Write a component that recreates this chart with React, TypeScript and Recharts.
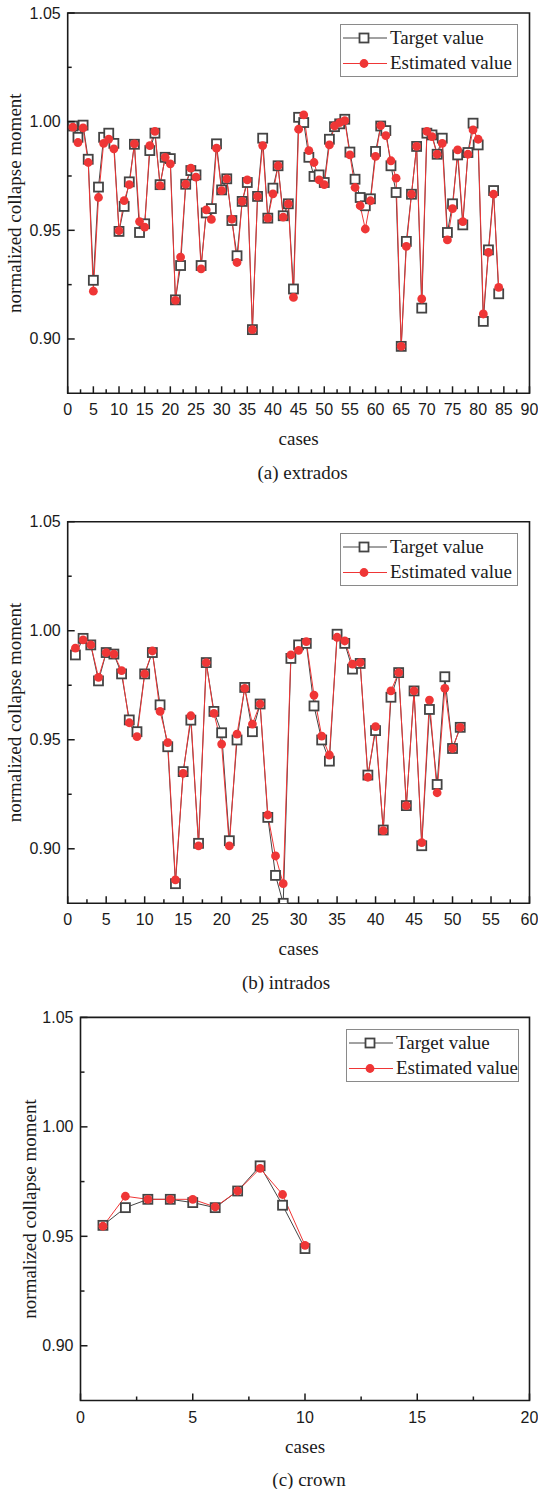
import React from 'react';
import { LineChart, Line, XAxis, YAxis, ReferenceArea, Legend, Label } from 'recharts';

// extrados: cases 1..84
const extradosTarget = [
  0.998, 0.9928, 0.9984, 0.9827, 0.927, 0.9699, 0.9928, 0.9947, 0.99, 0.9495,
  0.961, 0.9723, 0.9896, 0.949, 0.953, 0.9867, 0.9947, 0.971, 0.9836, 0.983,
  0.918, 0.9338, 0.9712, 0.9775, 0.9755, 0.9338, 0.958, 0.96, 0.9898, 0.9686,
  0.9737, 0.9545, 0.9383, 0.9633, 0.972, 0.9043, 0.9656, 0.9924, 0.9556, 0.9694,
  0.9797, 0.9567, 0.9622, 0.923, 1.002, 0.9996, 0.9836, 0.9748, 0.9755, 0.972,
  0.9919, 0.9977, 0.999, 1.0011, 0.986, 0.9735, 0.9651, 0.9613, 0.9645, 0.9863,
  0.998, 0.9959, 0.9797, 0.9674, 0.8966, 0.9449, 0.9666, 0.9886, 0.9142, 0.9947,
  0.9939, 0.985, 0.9924, 0.949, 0.9622, 0.9847, 0.9525, 0.9858, 0.9993, 0.9893,
  0.9081, 0.941, 0.9683, 0.9208,
];
const extradosEstimated = [
  0.9975, 0.9904, 0.9971, 0.9812, 0.922, 0.9651, 0.99, 0.992, 0.9875, 0.9498,
  0.9637, 0.971, 0.9898, 0.954, 0.9515, 0.989, 0.9955, 0.9706, 0.9836, 0.9806,
  0.9178, 0.9377, 0.9712, 0.9786, 0.9745, 0.9323, 0.9594, 0.955, 0.9878, 0.9683,
  0.9737, 0.9551, 0.9352, 0.9633, 0.9732, 0.9043, 0.9656, 0.989, 0.9556, 0.9668,
  0.9797, 0.9561, 0.9622, 0.9191, 0.9965, 1.0031, 0.9867, 0.9812, 0.9732, 0.971,
  0.9893, 0.998, 0.9996, 1.0005, 0.9847, 0.9697, 0.9613, 0.9506, 0.9636, 0.984,
  0.9982, 0.9936, 0.982, 0.974, 0.8966, 0.9426, 0.9666, 0.9886, 0.9184, 0.9955,
  0.9931, 0.985, 0.99, 0.9456, 0.96, 0.987, 0.954, 0.985, 0.9962, 0.9919,
  0.9115, 0.9398, 0.9666, 0.9237,
];

// intrados: cases 1..51
const intradosTarget = [
  0.9889, 0.9965, 0.9935, 0.977, 0.99, 0.9893, 0.9802, 0.9591, 0.9537, 0.9802,
  0.99, 0.966, 0.9468, 0.884, 0.9354, 0.959, 0.9025, 0.9854, 0.963, 0.9532,
  0.9037, 0.9499, 0.974, 0.9537, 0.9664, 0.9144, 0.8878, 0.875, 0.9873, 0.9935,
  0.9942, 0.9655, 0.9499, 0.9402, 0.9984, 0.9942, 0.9824, 0.985, 0.9338, 0.9542,
  0.9086, 0.9695, 0.9808, 0.9198, 0.9724, 0.9014, 0.9639, 0.9295, 0.9789, 0.946,
  0.9557,
];
const intradosEstimated = [
  0.992, 0.9958, 0.9935, 0.9786, 0.99, 0.9893, 0.9817, 0.9578, 0.9514, 0.9802,
  0.9907, 0.963, 0.9487, 0.8857, 0.9346, 0.961, 0.9013, 0.9854, 0.9621, 0.948,
  0.9013, 0.9526, 0.9736, 0.9572, 0.9664, 0.9155, 0.8967, 0.884, 0.9889, 0.991,
  0.995, 0.9705, 0.9517, 0.943, 0.997, 0.9953, 0.9847, 0.9854, 0.9328, 0.956,
  0.9083, 0.9724, 0.9808, 0.9198, 0.9724, 0.9028, 0.9682, 0.9257, 0.9736, 0.946,
  0.9557,
];

// crown: cases 1..10
const crownTarget = [0.955, 0.9631, 0.9669, 0.9669, 0.9654, 0.9631, 0.9707, 0.9822, 0.9642, 0.9444];
const crownEstimated = [0.9546, 0.9683, 0.9669, 0.9669, 0.9669, 0.9634, 0.9707, 0.981, 0.9691, 0.9459];

const xTicksExtrados = [0, 5, 10, 15, 20, 25, 30, 35, 40, 45, 50, 55, 60, 65, 70, 75, 80, 85, 90];
const xTicksIntrados = [0, 5, 10, 15, 20, 25, 30, 35, 40, 45, 50, 55, 60];
const xTicksCrown = [0, 5, 10, 15, 20];
const yTicks = [0.9, 0.925, 0.95, 0.975, 1.0, 1.025, 1.05];
const Y_DOMAIN = [0.875, 1.05];

const SERIES_NAMES = ['Target value', 'Estimated value'];
const SERIF = '"Liberation Serif", "Times New Roman", serif';
const SANS = '"Liberation Sans", Arial, sans-serif';
const INK = '#1a1a1a';
const GRAY = '#444444';
const RED = '#ef3636';

const withMinors = (major: number[]) => {
  const out: number[] = [];
  major.forEach((v, i) => {
    out.push(v);
    if (i < major.length - 1) out.push((v + major[i + 1]) / 2);
  });
  return out;
};

const buildRows = (target: number[], estimated: number[]) =>
  target.map((t, i) => ({ case: i + 1, target: t, estimated: estimated[i] }));

const XTick = ({ x, y, payload }: any) => {
  const v = payload.value;
  const major = Math.abs(v / 5 - Math.round(v / 5)) < 1e-6;
  return (
    <g>
      <line x1={x} y1={y} x2={x} y2={y - (major ? 7 : 4)} stroke={INK} strokeWidth={1.5} />
      {major && (
        <text x={x} y={y + 22} textAnchor="middle" fontSize={16} fontFamily={SANS} fill={INK}>
          {v}
        </text>
      )}
    </g>
  );
};

const YTick = ({ x, y, payload }: any) => {
  const v = payload.value;
  const major = Math.round(v * 1000) % 50 === 0;
  return (
    <g>
      <line x1={x} y1={y} x2={x + (major ? 7 : 4)} y2={y} stroke={INK} strokeWidth={1.5} />
      {major && (
        <text x={x - 7} y={y + 5.5} textAnchor="end" fontSize={16} fontFamily={SANS} fill={INK}>
          {v.toFixed(2)}
        </text>
      )}
    </g>
  );
};

const SquareDot = ({ cx, cy }: any) => {
  if (cx == null || cy == null) return null;
  return <rect x={cx - 4.5} y={cy - 4.5} width={9} height={9} fill="#fff" stroke={GRAY} strokeWidth={1.8} />;
};

const LegendBox = ({ width }: { width: number }) => (
  <svg width={width} height={53} style={{ display: 'block' }}>
    <rect x={0.5} y={0.5} width={width - 1} height={52} fill="#fff" stroke="#8a8a8a" strokeWidth={1} />
    <line x1={3} y1={14} x2={47} y2={14} stroke={GRAY} strokeWidth={1} />
    <rect x={19.5} y={9.5} width={9} height={9} fill="#fff" stroke={GRAY} strokeWidth={1.8} />
    <text x={50} y={19.8} fontFamily={SERIF} fontSize={19} fill={INK}>{SERIES_NAMES[0]}</text>
    <line x1={3} y1={39.5} x2={47} y2={39.5} stroke={RED} strokeWidth={1} />
    <circle cx={24} cy={39.5} r={4.4} fill={RED} />
    <text x={50} y={45.3} fontFamily={SERIF} fontSize={19} fill={INK}>{SERIES_NAMES[1]}</text>
  </svg>
);

type PanelProps = {
  top: number;
  height: number;
  plotTop: number;
  plotBottom: number;
  plotLeft: number;
  xTicks: number[];
  rows: any[];
  caption: string;
  captionX: number;
  yLabelX: number;
  legendTop: number;
  legendLeft: number;
  legendWidth: number;
};

function Panel(p: PanelProps) {
  const xMax = p.xTicks[p.xTicks.length - 1];
  return (
    <div style={{ position: 'absolute', left: 0, top: p.top }}>
      <LineChart
        width={538}
        height={p.height}
        data={p.rows}
        margin={{ top: p.plotTop, right: 8.5, bottom: p.height - p.plotBottom - 1, left: p.plotLeft - 1 }}
      >
        <XAxis
          type="number"
          dataKey="case"
          domain={[0, xMax]}
          ticks={withMinors(p.xTicks)}
          interval={0}
          height={1}
          tickSize={0}
          tickMargin={0}
          axisLine={false}
          tickLine={false}
          tick={<XTick />}
          allowDataOverflow
        >
          <Label
            content={({ viewBox }: any) => (
              <text x={viewBox.x + viewBox.width / 2} y={viewBox.y + 52} textAnchor="middle" fontFamily={SERIF} fontSize={19} fill={INK}>
                cases
              </text>
            )}
          />
          <Label
            content={({ viewBox }: any) => (
              <text x={p.captionX} y={viewBox.y + 85.5} textAnchor="middle" fontFamily={SERIF} fontSize={19} fill={INK}>
                {p.caption}
              </text>
            )}
          />
        </XAxis>
        <YAxis
          type="number"
          domain={Y_DOMAIN}
          ticks={yTicks}
          interval={0}
          width={1}
          tickSize={0}
          tickMargin={0}
          axisLine={false}
          tickLine={false}
          tick={<YTick />}
          allowDataOverflow
        >
          <Label
            content={({ viewBox }: any) => {
              const cy = viewBox.y + viewBox.height / 2;
              return (
                <text
                  x={p.yLabelX}
                  y={cy}
                  transform={`rotate(-90, ${p.yLabelX}, ${cy})`}
                  textAnchor="middle"
                  dominantBaseline="central"
                  fontFamily={SERIF}
                  fontSize={19}
                  fill={INK}
                >
                  normalized collapse moment
                </text>
              );
            }}
          />
        </YAxis>
        <ReferenceArea x1={0} x2={xMax} y1={Y_DOMAIN[0]} y2={Y_DOMAIN[1]} fill="none" stroke={INK} strokeWidth={1.6} />
        <Legend
          layout="vertical"
          align="center"
          verticalAlign="middle"
          content={() => <LegendBox width={p.legendWidth} />}
          wrapperStyle={{ top: p.legendTop, left: p.legendLeft, width: p.legendWidth }}
        />
        <Line
          dataKey="target"
          name={SERIES_NAMES[0]}
          stroke={GRAY}
          strokeWidth={1}
          dot={<SquareDot />}
          activeDot={false}
          isAnimationActive={false}
        />
        <Line
          dataKey="estimated"
          name={SERIES_NAMES[1]}
          stroke={RED}
          strokeWidth={1}
          dot={{ r: 4.4, fill: RED, stroke: RED, strokeWidth: 0 }}
          activeDot={false}
          isAnimationActive={false}
        />
      </LineChart>
    </div>
  );
}

export default function App() {
  return (
    <div style={{ position: 'absolute', left: 0, top: 0, width: 538, height: 1489, background: '#fff', overflow: 'hidden' }}>
      <Panel
        top={0}
        height={495}
        plotTop={13}
        plotBottom={393.3}
        plotLeft={67.7}
        xTicks={xTicksExtrados}
        rows={buildRows(extradosTarget, extradosEstimated)}
        caption="(a) extrados"
        captionX={302.5}
        yLabelX={14.5}
        legendTop={24}
        legendLeft={339.7}
        legendWidth={178}
      />
      <Panel
        top={495}
        height={500}
        plotTop={26.7}
        plotBottom={408.3}
        plotLeft={67.7}
        xTicks={xTicksIntrados}
        rows={buildRows(intradosTarget, intradosEstimated)}
        caption="(b) intrados"
        captionX={286}
        yLabelX={14.5}
        legendTop={38}
        legendLeft={340}
        legendWidth={178}
      />
      <Panel
        top={995}
        height={494}
        plotTop={22.4}
        plotBottom={405.5}
        plotLeft={80.5}
        xTicks={xTicksCrown}
        rows={buildRows(crownTarget, crownEstimated)}
        caption="(c) crown"
        captionX={309}
        yLabelX={29.5}
        legendTop={34.2}
        legendLeft={345.6}
        legendWidth={173}
      />
    </div>
  );
}
